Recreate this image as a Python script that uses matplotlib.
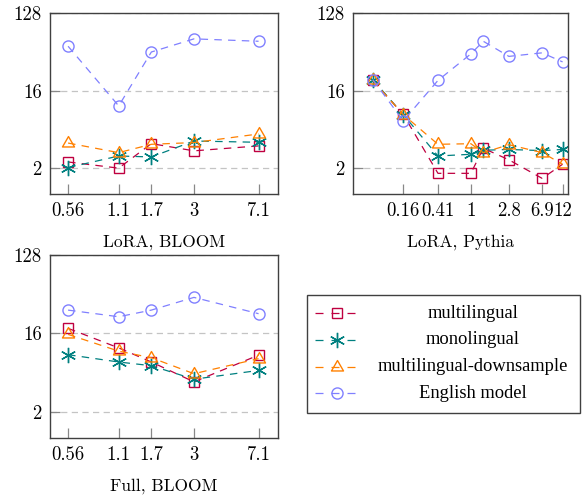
import matplotlib
matplotlib.use("Agg")
import matplotlib.pyplot as plt
from matplotlib.path import Path
from matplotlib.ticker import NullLocator, FixedLocator, NullFormatter
import numpy as np

# ---------------- data ----------------
bloom_x = [0.56, 1.1, 1.7, 3, 7.1]
bloom_ticklabels = ["0.56", "1.1", "1.7", "3", "7.1"]
pythia_x = [0.07, 0.16, 0.41, 1, 1.4, 2.8, 6.9, 12]
pythia_ticks = [0.16, 0.41, 1, 2.8, 6.9, 12]
pythia_ticklabels = ["0.16", "0.41", "1", "2.8", "6.9", "12"]
y_ticks = [2, 16, 128]
y_ticklabels = ["2", "16", "128"]

series_names = ["multilingual", "monolingual", "multilingual-downsample", "English model"]

lora_bloom_multilingual = [2.36, 2.0, 3.86, 3.18, 3.63]
lora_bloom_monolingual = [2.03, 2.77, 2.7, 4.14, 4.0]
lora_bloom_downsample = [3.92, 3.03, 3.79, 3.97, 5.0]
lora_bloom_english = [52.5, 10.6, 45, 64, 60]

lora_pythia_multilingual = [21, 8.45, 1.74, 1.74, 3.41, 2.5, 1.52, 2.22]
lora_pythia_monolingual = [21.5, 8.4, 2.77, 2.9, 3.23, 3.3, 3.2, 3.3]
lora_pythia_downsample = [21, 8.4, 3.79, 3.85, 3.03, 3.75, 3.03, 2.22]
lora_pythia_english = [21.5, 7.1, 21, 42.8, 60, 40, 44, 34.5]

full_bloom_multilingual = [18.3, 10.9, 7.5, 4.43, 9.0]
full_bloom_monolingual = [9.1, 7.5, 6.8, 4.75, 6.0]
full_bloom_downsample = [15.6, 10.0, 8.4, 5.5, 8.2]
full_bloom_english = [29.7, 24.9, 29.7, 41.6, 27]

# ---------------- style ----------------
W, H = 582, 495
colors = ["#BF0040", "#008080", "#FF8000", "#8080FF"]
tri = Path([(0, 1), (-0.866, -0.5), (0.866, -0.5), (0, 1)],
           [Path.MOVETO, Path.LINETO, Path.LINETO, Path.CLOSEPOLY])
markers = ["s", (6, 2, 0), tri, "o"]
msizes = [7.3, 11, 10, 8]
dash = (6, 5)
tick_font = dict(family="cmr10", size=13.5)
label_font = dict(family="cmr10", size=12.5)

fig = plt.figure(figsize=(W / 100, H / 100), dpi=100)


def rect(l, t, r, b):
    return [l / W, 1 - b / H, (r - l) / W, (b - t) / H]


def style_axes(ax, xticks, xlabels, xlim, label):
    ax.set_xscale("log")
    ax.set_yscale("log", base=2)
    ax.set_ylim(1, 128)
    ax.set_xlim(*xlim)
    ax.xaxis.set_major_locator(FixedLocator(xticks))
    ax.xaxis.set_minor_locator(NullLocator())
    ax.xaxis.set_minor_formatter(NullFormatter())
    ax.set_xticklabels(xlabels, fontdict=tick_font)
    ax.yaxis.set_major_locator(FixedLocator(y_ticks))
    ax.yaxis.set_minor_locator(NullLocator())
    ax.set_yticklabels(y_ticklabels, fontdict=tick_font)
    ax.tick_params(axis="both", direction="in", length=7, width=0.9,
                   color="#888888", pad=6, top=False, right=False)
    ax.grid(axis="y", color="#c4c4c4", linestyle=(0, (5, 3.5)), linewidth=0.9)
    ax.set_axisbelow(True)
    for s in ax.spines.values():
        s.set_color("#404040")
        s.set_linewidth(1.0)
    ax.set_xlabel(label, fontdict=label_font, labelpad=10)


def plot_series(ax, x, ys):
    for y, c, m, ms in zip(ys, colors, markers, msizes):
        ax.plot(x, y, color=c, linestyle="--", dashes=dash, linewidth=0.9,
                marker=m, markersize=ms, markerfacecolor="none",
                markeredgecolor=c, markeredgewidth=1.0)


ax1 = fig.add_axes(rect(50, 13, 278, 194))
plot_series(ax1, bloom_x, [lora_bloom_multilingual, lora_bloom_monolingual,
                           lora_bloom_downsample, lora_bloom_english])
style_axes(ax1, bloom_x, bloom_ticklabels, (0.44, 9.2), "LoRA, BLOOM")

ax2 = fig.add_axes(rect(353, 13, 568, 194))
plot_series(ax2, pythia_x, [lora_pythia_multilingual, lora_pythia_monolingual,
                            lora_pythia_downsample, lora_pythia_english])
style_axes(ax2, pythia_ticks, pythia_ticklabels, (0.041, 13.9), "LoRA, Pythia")

ax3 = fig.add_axes(rect(50, 255, 278, 438))
plot_series(ax3, bloom_x, [full_bloom_multilingual, full_bloom_monolingual,
                           full_bloom_downsample, full_bloom_english])
style_axes(ax3, bloom_x, bloom_ticklabels, (0.44, 9.2), "Full, BLOOM")

# ---------------- legend (pixel coordinates overlay) ----------------
lg = fig.add_axes([0, 0, 1, 1])
lg.set_xlim(0, W)
lg.set_ylim(H, 0)
lg.axis("off")
lg.add_patch(plt.Rectangle((307, 295), 273, 118, fill=False,
                           edgecolor="#404040", linewidth=1.0))
row_y = [313.3, 340, 366.7, 393.3]
for name, c, m, ms, yy in zip(series_names, colors, markers, msizes, row_y):
    lg.plot([315, 355], [yy, yy], color=c, linestyle="--", dashes=(6.4, 6.4),
            linewidth=0.9)
    lg.plot([336.5], [yy], color=c, marker=m, markersize=ms,
            markerfacecolor="none", markeredgecolor=c, markeredgewidth=1.0)
    lg.text(473, yy, name, ha="center", va="center",
            family="Liberation Serif", size=13.3)

fig.savefig("out.png", dpi=100)
